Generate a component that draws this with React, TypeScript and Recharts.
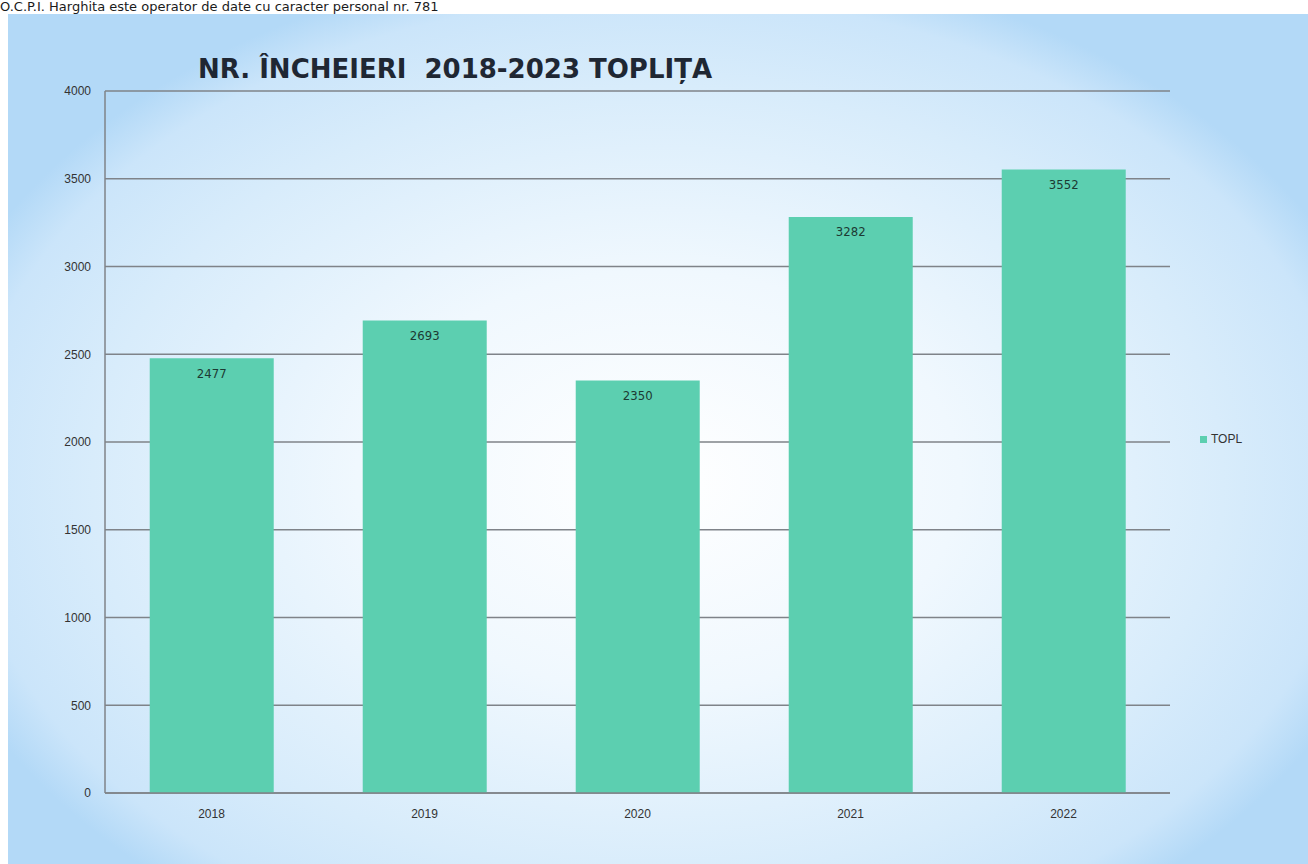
import React from "react";
import {
  BarChart, Bar, XAxis, YAxis, CartesianGrid, Legend, LabelList,
} from "recharts";

const years = ["2018", "2019", "2020", "2021", "2022"];
const topl = [2477, 2693, 2350, 3282, 3552];
const yTicks = [0, 500, 1000, 1500, 2000, 2500, 3000, 3500, 4000];

const chartData = years.map((y, i) => ({ year: y, TOPL: topl[i] }));

const BAR = "#5ccfb0";
const GRID = "#7f8389";

export default function App() {
  return (
    <div style={{ position: "absolute", left: 0, top: 0, width: 1308, height: 864, overflow: "hidden", background: "#fff" }}>
      <div
        style={{
          position: "absolute", left: 0, top: 0, fontFamily: "'DejaVu Sans', sans-serif",
          fontSize: 13, lineHeight: "14px", color: "#1b1b1b", whiteSpace: "nowrap",
        }}
      >
        O.C.P.I. Harghita este operator de date cu caracter personal nr. 781
      </div>
      <div
        style={{
          position: "absolute", left: 8, top: 14, width: 1300, height: 850,
          background:
            "radial-gradient(ellipse 58% 62% at 50% 55%, #ffffff 0%, #f0f8fe 40%, #d8ecfb 75%, #cbe5fa 92%, #b3d9f7 100%)",
        }}
      >
        <div
          style={{
            position: "absolute", left: 190, top: 40, fontFamily: "'DejaVu Sans', sans-serif",
            fontWeight: "bold", fontSize: 26, color: "#1f2733", whiteSpace: "nowrap",
          }}
        >
          NR. ÎNCHEIERI&nbsp; 2018-2023 TOPLIȚA
        </div>
        <BarChart
          width={1300}
          height={850}
          data={chartData}
          margin={{ top: 77, right: 8, left: 0, bottom: 41 }}
          barCategoryGap="21%"
        >
          <CartesianGrid vertical={false} stroke={GRID} strokeWidth={1.5} />
          <XAxis
            dataKey="year"
            axisLine={{ stroke: GRID, strokeWidth: 1.5 }}
            tickLine={false}
            tick={{ fontFamily: "'Liberation Sans', sans-serif", fontSize: 12, fill: "#333" }}
            tickMargin={10}
            height={30}
          />
          <YAxis
            domain={[0, 4000]}
            ticks={yTicks}
            axisLine={{ stroke: GRID, strokeWidth: 1.5 }}
            tickLine={false}
            tick={{ fontFamily: "'Liberation Sans', sans-serif", fontSize: 12, fill: "#333" }}
            tickMargin={8}
            width={97}
          />
          <Legend
            layout="vertical"
            align="right"
            verticalAlign="middle"
            iconType="square"
            iconSize={7}
            wrapperStyle={{ width: 100, paddingLeft: 30, fontFamily: "'Liberation Sans', sans-serif", fontSize: 12 }}
            formatter={(value) => <span style={{ color: "#333" }}>{value}</span>}
          />
          <Bar dataKey="TOPL" fill={BAR} isAnimationActive={false}>
            <LabelList
              dataKey="TOPL"
              position="insideTop"
              offset={10}
              style={{ fontFamily: "'DejaVu Sans Condensed', sans-serif", fontSize: 13, fill: "#1c3a33" }}
            />
          </Bar>
        </BarChart>
      </div>
    </div>
  );
}
